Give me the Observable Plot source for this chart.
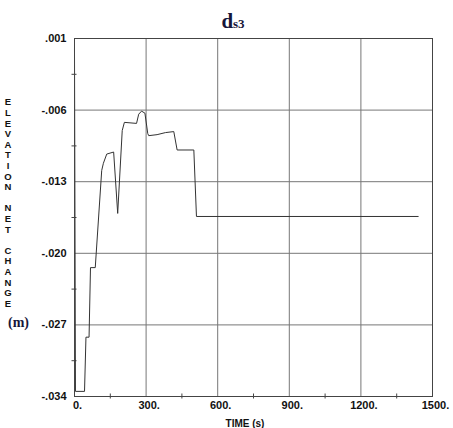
<!DOCTYPE html>
<html><head><meta charset="utf-8">
<script src="https://cdn.jsdelivr.net/npm/d3@7"></script>
<script src="https://cdn.jsdelivr.net/npm/@observablehq/plot@0.6"></script>
<style>body{margin:0;background:#fff} #chart{width:453px;height:428px}</style>
</head><body><div id="chart"></div>
<script>
const times = [0, 4, 42, 48, 61, 67, 87, 114, 121, 135, 164, 181, 200, 209, 260, 269, 281, 295, 307, 311, 346, 381, 416, 430, 500, 511, 1440];
const elevation = [0, -0.0335, -0.0335, -0.0282, -0.0282, -0.0214, -0.0214, -0.0119, -0.0112, -0.0103, -0.0101, -0.0161, -0.0080, -0.0072, -0.0073, -0.0064, -0.0061, -0.0063, -0.0083, -0.0085, -0.0084, -0.0082, -0.0081, -0.0099, -0.0099, -0.0164, -0.0164];
const xTicks = [0, 300, 600, 900, 1200, 1500];
const xTickLabels = ["0.", "300.", "600.", "900.", "1200.", "1500."];
const yTicks = [0.001, -0.006, -0.013, -0.020, -0.027, -0.034];
const yTickLabels = [".001", "-.006", "-.013", "-.020", "-.027", "-.034"];
const xMinor = [150, 450, 750, 1050, 1350];
const yMinor = [-0.0025, -0.0095, -0.0165, -0.0235, -0.0305];
const titleMain = "d", titleSub = "s3";
const yLabel = "ELEVATION NET CHANGE";
const yUnit = "(m)";
const xLabel = "TIME (s)";

const data = times.map((t, i) => ({t, e: elevation[i]}));

const svgEl = Plot.plot({
  width: 453, height: 428,
  marginLeft: 74, marginRight: 21, marginTop: 38, marginBottom: 32,
  style: {fontFamily: "'Liberation Sans', Arial, sans-serif", fontSize: "11px", fontWeight: "bold", color: "#111", background: "#fff"},
  x: {domain: [0, 1500]},
  y: {domain: [-0.034, 0.001]},
  marks: [
    Plot.gridX(xTicks, {stroke: "#777", strokeOpacity: 1}),
    Plot.gridY(yTicks, {stroke: "#777", strokeOpacity: 1}),
    Plot.axisX(xMinor, {tickSize: 5, dy: -2.5, text: null, stroke: "#444", label: null}),
    Plot.axisY(yMinor, {tickSize: 5, dx: 2.5, text: null, stroke: "#444", label: null}),
    Plot.axisX(xTicks, {tickSize: 0, tickPadding: 5, dx: 3, tickFormat: d => xTickLabels[xTicks.indexOf(d)], label: null}),
    Plot.axisY(yTicks, {tickSize: 0, tickPadding: 8, tickFormat: d => yTickLabels[yTicks.indexOf(d)], label: null}),
    Plot.line(data, {x: "t", y: "e", stroke: "#333", strokeWidth: 1}),
    Plot.frame({stroke: "#444"})
  ]
});
document.getElementById("chart").append(svgEl);

const svg = d3.select(svgEl);
const serif = "'Liberation Serif', 'Times New Roman', serif";
const t = svg.append("text").attr("x", 233).attr("y", 28)
  .attr("font-family", serif).attr("font-weight", "bold").attr("fill", "#16163a");
t.append("tspan").attr("font-size", 21).text(titleMain);
t.append("tspan").attr("font-size", 13).text(titleSub);

const chars = Array.from(yLabel);
svg.append("g").attr("font-size", 9.5).attr("font-weight", "bold").attr("fill", "#111")
  .attr("text-anchor", "middle").attr("font-family", "'Liberation Sans', Arial, sans-serif")
  .selectAll("text").data(chars).join("text")
  .attr("x", 8).attr("y", (c, i) => 102 + i * 10.6).attr("dy", "0.35em").text(c => c);

svg.append("text").attr("x", 18.5).attr("y", 327).attr("text-anchor", "middle")
  .attr("font-family", serif).attr("font-weight", "bold").attr("font-size", 14)
  .attr("fill", "#16163a").text(yUnit);

svg.append("text").attr("x", 245).attr("y", 427)
  .attr("font-family", "'Liberation Sans', Arial, sans-serif").attr("font-weight", "bold")
  .attr("font-size", 10).attr("fill", "#111").text(xLabel);
</script>
</body></html>
